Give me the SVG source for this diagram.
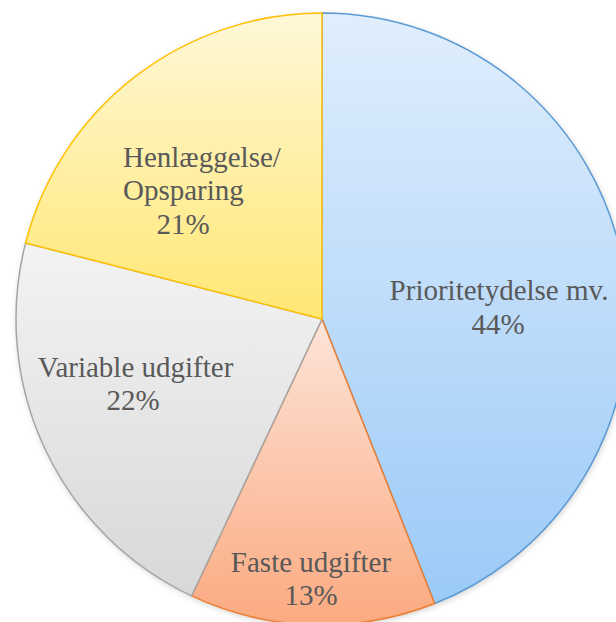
<svg xmlns="http://www.w3.org/2000/svg" width="616" height="622" viewBox="0 0 616 622">
  <style>
    text { font-family: 'Liberation Serif', 'Times New Roman', serif; font-size: 29px; fill: #595959; }
    .mid { text-anchor: middle; }
    .slice { stroke-width: 1.5; stroke-linejoin: round; }
  </style>
  <defs>
    <linearGradient id="gBlue" x1="0" y1="0" x2="0" y2="1">
      <stop offset="0" stop-color="#e0eefd"/>
      <stop offset="1" stop-color="#9bcaf7"/>
    </linearGradient>
    <linearGradient id="gOrange" x1="0" y1="0" x2="0" y2="1">
      <stop offset="0" stop-color="#fde4d9"/>
      <stop offset="1" stop-color="#fbaa80"/>
    </linearGradient>
    <linearGradient id="gGrey" x1="0" y1="0" x2="0" y2="1">
      <stop offset="0" stop-color="#f3f3f3"/>
      <stop offset="1" stop-color="#d8d8d8"/>
    </linearGradient>
    <linearGradient id="gYellow" x1="0" y1="0" x2="0" y2="1">
      <stop offset="0" stop-color="#fff8d8"/>
      <stop offset="1" stop-color="#ffe774"/>
    </linearGradient>
    <filter id="shadow" x="-10%" y="-10%" width="120%" height="120%">
      <feGaussianBlur stdDeviation="3"/>
    </filter>
  </defs>
  <rect width="616" height="622" fill="#ffffff"/>
  <circle cx="323" cy="321" r="306" fill="#000" opacity="0.18" filter="url(#shadow)"/>

  <g id="slice-prioritetydelse">
    <path class="slice" d="M322,319 L322,13 A306,306 0 0 1 434.65,603.51 Z" fill="url(#gBlue)" stroke="#5b9bd5"/>
    <text class="mid" x="499" y="300">Prioritetydelse mv.</text>
    <text class="mid" x="498" y="334">44%</text>
  </g>
  <g id="slice-faste">
    <path class="slice" d="M322,319 L434.65,603.51 A306,306 0 0 1 191.71,595.88 Z" fill="url(#gOrange)" stroke="#ed7d31"/>
    <text class="mid" x="311" y="572">Faste udgifter</text>
    <text class="mid" x="311" y="605">13%</text>
  </g>
  <g id="slice-variable">
    <path class="slice" d="M322,319 L191.71,595.88 A306,306 0 0 1 25.61,242.9 Z" fill="url(#gGrey)" stroke="#a5a5a5"/>
    <text class="mid" x="135.5" y="377">Variable udgifter</text>
    <text class="mid" x="133" y="410">22%</text>
  </g>
  <g id="slice-henlaeggelse">
    <path class="slice" d="M322,319 L25.61,242.9 A306,306 0 0 1 322,13 Z" fill="url(#gYellow)" stroke="#ffc000"/>
    <text x="123" y="167">Henlæggelse/</text>
    <text x="123" y="200">Opsparing</text>
    <text class="mid" x="183" y="234">21%</text>
  </g>
  <g id="connectors"/>
</svg>
